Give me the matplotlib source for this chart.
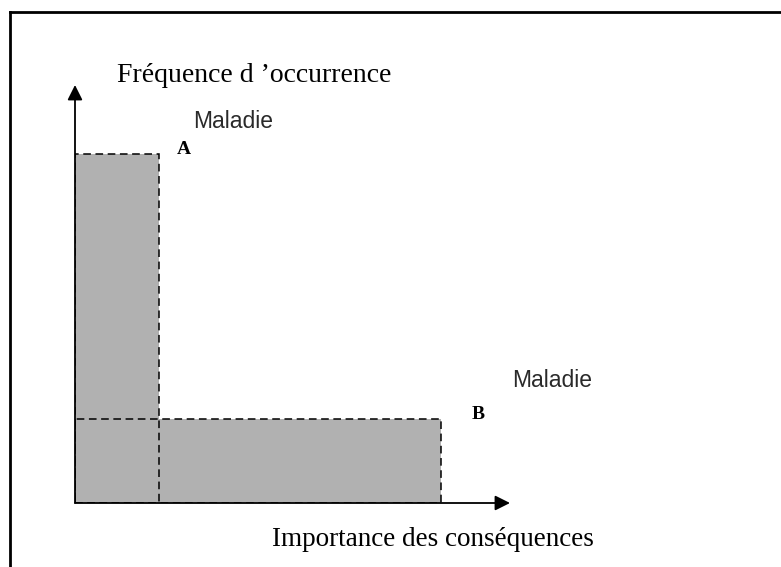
import matplotlib
matplotlib.use("Agg")
import matplotlib.pyplot as plt
from matplotlib.patches import Rectangle
from matplotlib.lines import Line2D

# ---- data ----
categories = ["A", "B"]
disease_labels = ["Maladie", "Maladie"]
consequence = [2.4, 10.45]   # importance des conséquences (width)
frequency = [9.97, 2.4]      # fréquence d'occurrence (height)
x_label = "Importance des conséquences"
y_label = "Fréquence d \u2019occurrence"

W, H = 781, 567
fig = plt.figure(figsize=(W / 100, H / 100), dpi=100)
fig.patch.set_facecolor("white")

# outer frame (top and left visible)
fig.add_artist(Line2D([10 / W, 1.0], [1 - 12 / H, 1 - 12 / H], color="black", lw=2.0))
fig.add_artist(Line2D([10 / W, 10 / W], [1 - 12 / H, 0.0], color="black", lw=2.0))

ax = fig.add_axes([75 / W, 64 / H, 435 / W, 418 / H])
ax.set_xlim(0, 12.43)
ax.set_ylim(0, 11.94)
ax.axis("off")

gray = "#b1b1b1"
for w, h in zip(consequence, frequency):
    ax.add_patch(Rectangle((0, 0), w, h, facecolor=gray, edgecolor="none", zorder=1))
for w, h in zip(consequence, frequency):
    ax.add_patch(Rectangle((0, 0), w, h, facecolor="none", edgecolor="black",
                           linestyle=(0, (5, 3)), lw=1.1, zorder=2))

# axes with arrows
arrow = dict(arrowstyle="-|>,head_length=0.9,head_width=0.45", color="black", lw=1.3,
             shrinkA=0, shrinkB=0)
ax.annotate("", xy=(1, 0), xytext=(0, 0), xycoords="axes fraction",
            textcoords="axes fraction", arrowprops=arrow, zorder=3)
ax.annotate("", xy=(0, 1), xytext=(0, 0), xycoords="axes fraction",
            textcoords="axes fraction", arrowprops=arrow, zorder=3)

serif = "Liberation Serif"
sans = "Liberation Sans"

# letter and disease labels next to each rectangle corner
letter_offsets = [(25, 4), (37, 4)]
disease_offsets = [(34, 32), (71, 38)]
for cat, lab, w, h, lo, do in zip(categories, disease_labels, consequence, frequency,
                                  letter_offsets, disease_offsets):
    ax.annotate(cat, xy=(w, h), xytext=lo, textcoords="offset pixels",
                ha="center", va="center", fontsize=14, family=serif, fontweight="semibold")
    ax.annotate(lab, xy=(w, h), xytext=do, textcoords="offset pixels",
                ha="left", va="center", fontsize=16.5, family=sans, color="#2a2a2a")

fig.text(117 / W, 1 - 76 / H, y_label, ha="left", va="center", fontsize=20, family=serif)
fig.text(272 / W, 1 - 539 / H, x_label, ha="left", va="center", fontsize=19.5, family=serif)

fig.savefig("out.png", dpi=100, facecolor="white")
